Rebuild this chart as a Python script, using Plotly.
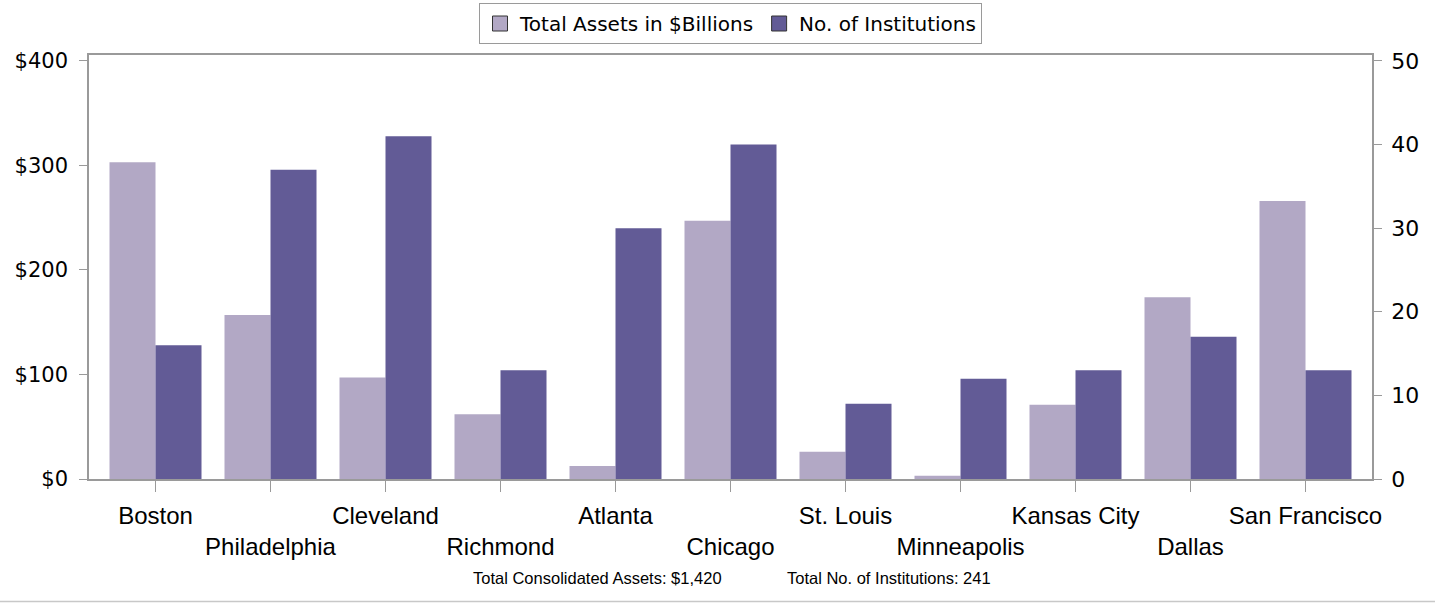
import plotly.graph_objects as go

districts = ["Boston", "Philadelphia", "Cleveland", "Richmond", "Atlanta", "Chicago",
             "St. Louis", "Minneapolis", "Kansas City", "Dallas", "San Francisco"]
assets = [303, 157, 97, 62, 12.5, 247, 26, 3, 71, 174, 266]
institutions = [16, 37, 41, 13, 30, 40, 9, 12, 13, 17, 13]
left_ticks = [0, 100, 200, 300, 400]
left_ticktext = ["$0", "$100", "$200", "$300", "$400"]
right_ticks = [0, 10, 20, 30, 40, 50]
footnotes = ["Total Consolidated Assets: $1,420", "Total No. of Institutions: 241"]
series_names = ["Total Assets in $Billions", "No. of Institutions"]

LIGHT = "#B2A8C5"
DARK = "#625B96"
GRID = "#9a9a9a"

W, H = 1435, 603
L, R, T, B = 89, 63, 55, 124
PW, PH = W - L - R, H - T - B

ticktext = [d if i % 2 == 0 else "<br>" + d for i, d in enumerate(districts)]

fig = go.Figure()
fig.add_trace(go.Bar(x=districts, y=assets, name=series_names[0], showlegend=False,
                     marker=dict(color=LIGHT, line=dict(width=0)),
                     offsetgroup="a", yaxis="y"))
fig.add_trace(go.Bar(x=districts, y=institutions, name=series_names[1], showlegend=False,
                     marker=dict(color=DARK, line=dict(width=0)),
                     offsetgroup="b", yaxis="y2"))
# legend-only entries with outlined square swatches
for nm, col in zip(series_names, [LIGHT, DARK]):
    fig.add_trace(go.Scatter(x=[None], y=[None], mode="markers", name=nm,
                             marker=dict(symbol="square", size=15, color=col,
                                         line=dict(color="#333333", width=1))))

pad = 9 / 115
fig.update_layout(
    width=W, height=H,
    margin=dict(l=L, r=R, t=T, b=B, autoexpand=False),
    paper_bgcolor="white", plot_bgcolor="white",
    barmode="group", bargap=0.2, bargroupgap=0,
    font=dict(family="DejaVu Sans", size=20, color="black"),
    showlegend=True,
    legend=dict(orientation="h", x=0.5, xanchor="center",
                y=1 + (T - 3) / PH, yanchor="top",
                bordercolor=GRID, borderwidth=1, font=dict(size=20, family="DejaVu Sans"),
                itemwidth=30, tracegroupgap=0),
    xaxis=dict(tickmode="array", tickvals=districts, ticktext=ticktext, tickangle=0,
               range=[-0.5 - pad, 10.5 + pad], automargin=False,
               ticks="outside", ticklen=11, tickcolor=GRID, showline=True,
               linecolor=GRID, linewidth=1.5, mirror=True, showgrid=False,
               ticklabelstandoff=3,
               tickfont=dict(family="Liberation Sans", size=24)),
    yaxis=dict(range=[0, 405.7], tickvals=left_ticks, ticktext=left_ticktext, automargin=False,
               ticks="outside", ticklen=8, tickcolor=GRID, showline=True,
               linecolor=GRID, linewidth=1.5, showgrid=False, zeroline=False,
               ticklabelstandoff=7,
               tickfont=dict(family="DejaVu Sans", size=21)),
    yaxis2=dict(range=[0, 50.71], tickvals=right_ticks, overlaying="y", side="right",
                automargin=False,
                ticks="outside", ticklen=8, tickcolor=GRID, showline=True,
                linecolor=GRID, linewidth=1.5, showgrid=False, zeroline=False,
                ticklabelstandoff=5,
                tickfont=dict(family="DejaVu Sans", size=22)),
)

fig.add_annotation(text=footnotes[0], xref="paper", yref="paper",
                   x=(597 - L) / PW, y=-(578 - (T + PH)) / PH, xanchor="center", yanchor="middle",
                   showarrow=False, font=dict(family="Liberation Sans", size=16.5))
fig.add_annotation(text=footnotes[1], xref="paper", yref="paper",
                   x=(889 - L) / PW, y=-(578 - (T + PH)) / PH, xanchor="center", yanchor="middle",
                   showarrow=False, font=dict(family="Liberation Sans", size=16.5))
fig.add_shape(type="line", xref="paper", yref="paper",
              x0=-L / PW, x1=(W - L) / PW,
              y0=-(601.5 - (T + PH)) / PH, y1=-(601.5 - (T + PH)) / PH,
              line=dict(color="#c8c8c8", width=1.5))

fig.write_html("out.html", config={"displayModeBar": False},
               post_script="document.body.style.margin='0';")
